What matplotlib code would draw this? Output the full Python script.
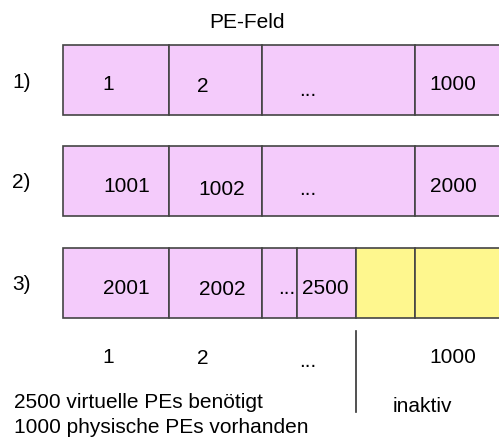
import matplotlib
matplotlib.use("Agg")
import matplotlib.pyplot as plt
from matplotlib.patches import Rectangle

plt.rcParams["font.family"] = ["Liberation Sans", "DejaVu Sans"]

# cell boundaries along the PE field (pixel units of the original drawing)
ROW_EDGES = [
    [63, 169, 262, 415, 506],
    [63, 169, 262, 415, 506],
    [63, 169, 262, 297, 356, 415, 506],
]
ROW_TOPS = [46, 147, 249]
ROW_HEIGHT = 70
ROW_NAMES = ["1)", "2)", "3)"]
CELL_TEXT = [
    ["1", "2", "...", "1000"],
    ["1001", "1002", "...", "2000"],
    ["2001", "2002", "...", "2500", "", ""],
]
CELL_TEXT_X = [
    [108, 203, 308, 453],
    [127, 222, 308, 453],
    [126, 222, 287, 325, 0, 0],
]
CELL_TEXT_DY = [
    [39, 41, 44, 39],
    [40, 43, 43, 40],
    [40, 41, 40, 40, 0, 0],
]
# which cells are inactive (yellow)
CELL_ACTIVE = [
    [1, 1, 1, 1],
    [1, 1, 1, 1],
    [1, 1, 1, 1, 0, 0],
]
PHYS_LABELS = ["1", "2", "...", "1000"]
PHYS_X = [108, 203, 308, 453]
PHYS_Y = [358, 359, 362, 358]
NOTES = ["2500 virtuelle PEs benötigt", "1000 physische PEs vorhanden"]

PINK = "#f4cbfb"
YELLOW = "#fef78e"
EDGE = "#444444"
FS = 15

fig = plt.figure(figsize=(4.99, 4.39), dpi=100)
ax = fig.add_axes([0, 0, 1, 1])
ax.set_xlim(0, 499)
ax.set_ylim(439, 0)
ax.axis("off")

ax.text(247, 23, "PE-Feld", ha="center", va="center", fontsize=FS)

for r, edges in enumerate(ROW_EDGES):
    top = ROW_TOPS[r]
    ax.text(12, top + 36, ROW_NAMES[r], ha="left", va="center", fontsize=FS)
    for c in range(len(edges) - 1):
        x0, x1 = edges[c], edges[c + 1]
        color = PINK if CELL_ACTIVE[r][c] else YELLOW
        ax.add_patch(Rectangle((x0, top), x1 - x0, ROW_HEIGHT, facecolor=color,
                               edgecolor=EDGE, lw=1.2))
        label = CELL_TEXT[r][c]
        if label:
            ax.text(CELL_TEXT_X[r][c], top + CELL_TEXT_DY[r][c], label,
                    ha="center", va="center", fontsize=FS)

for lab, x, y in zip(PHYS_LABELS, PHYS_X, PHYS_Y):
    ax.text(x, y, lab, ha="center", va="center", fontsize=FS)
ax.plot([356, 356], [332, 413], color="#333333", lw=1.2)
ax.text(422, 407, "inaktiv", ha="center", va="center", fontsize=FS)
ax.text(14, 403, NOTES[0], ha="left", va="center", fontsize=FS)
ax.text(14, 428, NOTES[1], ha="left", va="center", fontsize=FS)

fig.savefig("out.png", dpi=100)
